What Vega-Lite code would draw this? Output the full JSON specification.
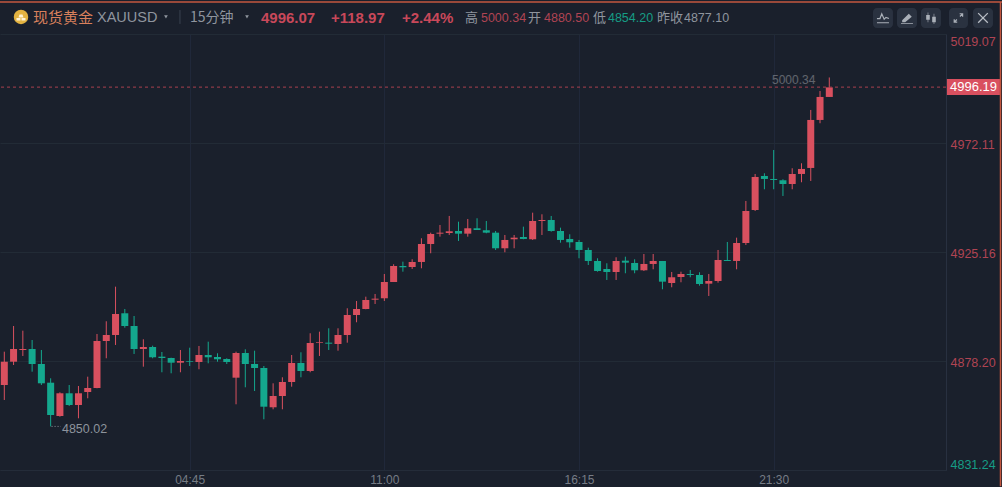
{
"$schema":"https://vega.github.io/schema/vega-lite/v6.json",
"width":946,"height":436,
"autosize":{"type":"none"},
"padding":{"left":0,"top":34,"right":56,"bottom":17},
"background":"#1a202c",
"config":{"view":{"stroke":null},"text":{"font":"Liberation Sans","baseline":"middle","align":"left"}},
"data":{"values":[
{"bar":0,"open":4867.86,"high":4882.21,"low":4861.40,"close":4877.90},
{"bar":1,"open":4877.90,"high":4893.28,"low":4876.48,"close":4883.37},
{"bar":2,"open":4882.94,"high":4891.26,"low":4880.36,"close":4883.37},
{"bar":3,"open":4883.37,"high":4887.25,"low":4873.59,"close":4876.91},
{"bar":4,"open":4876.91,"high":4882.94,"low":4867.86,"close":4868.59},
{"bar":5,"open":4868.85,"high":4870.75,"low":4850.02,"close":4854.94},
{"bar":6,"open":4854.51,"high":4864.72,"low":4854.20,"close":4864.29},
{"bar":7,"open":4864.29,"high":4867.86,"low":4858.82,"close":4859.25},
{"bar":8,"open":4859.25,"high":4867.43,"low":4853.52,"close":4864.29},
{"bar":9,"open":4864.85,"high":4871.44,"low":4862.13,"close":4866.57},
{"bar":10,"open":4866.57,"high":4889.84,"low":4866.44,"close":4886.82},
{"bar":11,"open":4886.82,"high":4895.31,"low":4879.37,"close":4889.41},
{"bar":12,"open":4889.41,"high":4910.22,"low":4885.10,"close":4898.45},
{"bar":13,"open":4898.76,"high":4900.61,"low":4892.55,"close":4893.28},
{"bar":14,"open":4893.28,"high":4897.59,"low":4881.22,"close":4883.37},
{"bar":15,"open":4883.37,"high":4887.55,"low":4875.75,"close":4884.24},
{"bar":16,"open":4884.24,"high":4884.80,"low":4879.37,"close":4879.80},
{"bar":17,"open":4880.06,"high":4882.08,"low":4873.34,"close":4879.50},
{"bar":18,"open":4879.50,"high":4879.62,"low":4872.90,"close":4877.47},
{"bar":19,"open":4877.47,"high":4882.94,"low":4873.34,"close":4878.20},
{"bar":20,"open":4878.20,"high":4883.93,"low":4876.05,"close":4877.90},
{"bar":21,"open":4877.77,"high":4884.67,"low":4874.63,"close":4880.79},
{"bar":22,"open":4880.79,"high":4886.52,"low":4877.21,"close":4879.80},
{"bar":23,"open":4879.93,"high":4881.52,"low":4877.90,"close":4878.94},
{"bar":24,"open":4879.06,"high":4879.37,"low":4876.91,"close":4877.77},
{"bar":25,"open":4871.01,"high":4882.21,"low":4859.55,"close":4881.65},
{"bar":26,"open":4881.65,"high":4883.24,"low":4866.87,"close":4876.91},
{"bar":27,"open":4876.91,"high":4882.64,"low":4865.28,"close":4875.19},
{"bar":28,"open":4875.19,"high":4876.05,"low":4853.08,"close":4858.51},
{"bar":29,"open":4858.26,"high":4868.59,"low":4857.39,"close":4863.12},
{"bar":30,"open":4863.12,"high":4871.18,"low":4857.39,"close":4869.16},
{"bar":31,"open":4869.16,"high":4880.79,"low":4867.13,"close":4877.34},
{"bar":32,"open":4877.34,"high":4881.95,"low":4871.18,"close":4873.89},
{"bar":33,"open":4873.89,"high":4890.14,"low":4873.34,"close":4885.96},
{"bar":34,"open":4886.09,"high":4890.83,"low":4880.36,"close":4886.39},
{"bar":35,"open":4886.09,"high":4892.29,"low":4882.94,"close":4885.66},
{"bar":36,"open":4885.53,"high":4892.29,"low":4882.64,"close":4889.41},
{"bar":37,"open":4889.41,"high":4900.91,"low":4886.09,"close":4898.02},
{"bar":38,"open":4898.02,"high":4904.05,"low":4894.88,"close":4900.61},
{"bar":39,"open":4900.61,"high":4905.91,"low":4900.48,"close":4904.48},
{"bar":40,"open":4904.61,"high":4907.07,"low":4902.76,"close":4905.05},
{"bar":41,"open":4905.22,"high":4915.69,"low":4904.05,"close":4912.24},
{"bar":42,"open":4912.24,"high":4919.87,"low":4912.24,"close":4919.13},
{"bar":43,"open":4919.13,"high":4920.99,"low":4916.68,"close":4918.57},
{"bar":44,"open":4918.70,"high":4922.02,"low":4917.84,"close":4920.86},
{"bar":45,"open":4920.86,"high":4931.07,"low":4918.14,"close":4928.61},
{"bar":46,"open":4928.61,"high":4933.48,"low":4924.61,"close":4932.92},
{"bar":47,"open":4933.05,"high":4936.80,"low":4931.76,"close":4933.48},
{"bar":48,"open":4933.35,"high":4940.68,"low":4932.49,"close":4934.08},
{"bar":49,"open":4934.21,"high":4938.22,"low":4929.91,"close":4933.05},
{"bar":50,"open":4933.05,"high":4939.38,"low":4931.76,"close":4935.38},
{"bar":51,"open":4935.38,"high":4939.69,"low":4934.64,"close":4934.64},
{"bar":52,"open":4934.52,"high":4938.52,"low":4933.22,"close":4933.48},
{"bar":53,"open":4933.48,"high":4934.21,"low":4926.03,"close":4926.76},
{"bar":54,"open":4926.76,"high":4932.49,"low":4925.04,"close":4930.34},
{"bar":55,"open":4930.64,"high":4932.49,"low":4926.76,"close":4931.33},
{"bar":56,"open":4931.63,"high":4936.07,"low":4930.64,"close":4930.77},
{"bar":57,"open":4930.64,"high":4942.10,"low":4930.34,"close":4938.52},
{"bar":58,"open":4938.52,"high":4941.41,"low":4932.49,"close":4938.95},
{"bar":59,"open":4938.95,"high":4940.68,"low":4933.91,"close":4934.21},
{"bar":60,"open":4934.21,"high":4935.64,"low":4929.17,"close":4930.34},
{"bar":61,"open":4930.77,"high":4932.79,"low":4927.02,"close":4929.34},
{"bar":62,"open":4929.47,"high":4930.34,"low":4922.45,"close":4926.03},
{"bar":63,"open":4926.03,"high":4927.02,"low":4919.56,"close":4921.29},
{"bar":64,"open":4921.29,"high":4922.45,"low":4916.68,"close":4916.98},
{"bar":65,"open":4917.84,"high":4920.30,"low":4913.10,"close":4916.55},
{"bar":66,"open":4916.55,"high":4922.88,"low":4913.10,"close":4921.29},
{"bar":67,"open":4921.42,"high":4923.14,"low":4915.99,"close":4920.56},
{"bar":68,"open":4920.43,"high":4922.02,"low":4915.99,"close":4917.28},
{"bar":69,"open":4917.28,"high":4924.30,"low":4916.98,"close":4920.00},
{"bar":70,"open":4920.00,"high":4924.30,"low":4917.71,"close":4921.29},
{"bar":71,"open":4921.29,"high":4921.29,"low":4909.09,"close":4912.37},
{"bar":72,"open":4911.81,"high":4916.55,"low":4909.96,"close":4914.27},
{"bar":73,"open":4914.39,"high":4916.68,"low":4912.11,"close":4915.69},
{"bar":74,"open":4915.69,"high":4917.41,"low":4914.27,"close":4915.26},
{"bar":75,"open":4915.26,"high":4916.42,"low":4910.65,"close":4911.38},
{"bar":76,"open":4911.51,"high":4915.69,"low":4906.21,"close":4912.67},
{"bar":77,"open":4912.67,"high":4926.03,"low":4911.94,"close":4921.72},
{"bar":78,"open":4921.72,"high":4929.47,"low":4921.29,"close":4921.29},
{"bar":79,"open":4921.29,"high":4931.33,"low":4917.71,"close":4929.04},
{"bar":80,"open":4929.04,"high":4947.14,"low":4928.18,"close":4942.83},
{"bar":81,"open":4943.26,"high":4958.77,"low":4942.83,"close":4957.48},
{"bar":82,"open":4957.91,"high":4959.07,"low":4952.18,"close":4956.62},
{"bar":83,"open":4956.62,"high":4969.11,"low":4952.18,"close":4956.19},
{"bar":84,"open":4956.06,"high":4956.49,"low":4949.29,"close":4954.46},
{"bar":85,"open":4954.46,"high":4961.23,"low":4952.18,"close":4958.77},
{"bar":86,"open":4958.77,"high":4963.38,"low":4955.20,"close":4960.93},
{"bar":87,"open":4961.36,"high":4986.35,"low":4955.76,"close":4982.04},
{"bar":88,"open":4982.04,"high":4994.53,"low":4980.62,"close":4991.95},
{"bar":89,"open":4991.95,"high":5000.34,"low":4991.95,"close":4996.07}
]},
"layer":[
{"mark":{"type":"rule","strokeWidth":1},
 "encoding":{
  "x":{"field":"bar","type":"quantitative","scale":{"domain":[-0.464,101.59],"nice":false,"zero":false,"padding":0},
   "axis":{"title":null,"values":[20,41,62,83],"labelExpr":"{'20':'04:45','41':'11:00','62':'16:15','83':'21:30'}[datum.value]","grid":true,"gridColor":"#20283a","domainColor":"#242c39","ticks":false,"labelColor":"#767c85","labelFontSize":12,"labelFont":"Liberation Sans","labelPadding":4,"labelAngle":0}},
  "y":{"field":"low","type":"quantitative","scale":{"domain":[4831.24,5019.07],"nice":false,"zero":false},
   "axis":{"title":null,"orient":"right","values":[4831.24,4878.20,4925.16,4972.11,5019.07],"format":".2f","grid":true,"gridColor":"#222b36","domainColor":"#283040","ticks":false,"labelFontSize":12.5,"labelFont":"Liberation Sans","labelPadding":4,"labelFlush":true,"labelOffset":1.5,"labelColor":{"condition":{"test":"datum.value<4877","value":"#169c85"},"value":"#b04453"}}},
  "y2":{"field":"high"},
  "color":{"condition":{"test":"datum.close>=datum.open","value":"#d9505f"},"value":"#14a88e"}
 }},
{"mark":{"type":"bar","size":7},
 "encoding":{
  "x":{"field":"bar","type":"quantitative"},
  "y":{"field":"open","type":"quantitative"},
  "y2":{"field":"close"},
  "color":{"condition":{"test":"datum.close>=datum.open","value":"#d9505f"},"value":"#14a88e"}
 }},
{"data":{"values":[{"price":4996.19}]},"mark":{"type":"rule","color":"#a8404f","strokeWidth":1,"strokeDash":[3,3]},
 "encoding":{"y":{"field":"price","type":"quantitative"}}},
{"data":{"values":[{"label":"5000.34"}]},"mark":{"type":"text","fontSize":12,"color":"#ffffff","opacity":0.3},
 "encoding":{"text":{"field":"label"},"x":{"datum":82.82,"type":"quantitative"},"y":{"datum":4999.27,"type":"quantitative"}}},
{"data":{"values":[{"price":4850.02}]},"mark":{"type":"rule","color":"#8d939c","strokeWidth":1,"strokeDash":[1,2]},
 "encoding":{"x":{"datum":5.1,"type":"quantitative"},"x2":{"datum":6.1},"y":{"field":"price","type":"quantitative"}}},
{"data":{"values":[{"label":"4850.02"}]},"mark":{"type":"text","fontSize":12.5,"color":"#8d939c"},
 "encoding":{"text":{"field":"label"},"x":{"datum":6.22,"type":"quantitative"},"y":{"datum":4848.9,"type":"quantitative"}}},
{"data":{"values":[{}]},"mark":{"type":"rect","color":"#d9505f"},
 "encoding":{"x":{"datum":101.69,"type":"quantitative"},"x2":{"datum":107.41},"y":{"datum":4999.7,"type":"quantitative"},"y2":{"datum":4992.8}}},
{"data":{"values":[{"label":"4996.19"}]},"mark":{"type":"text","fontSize":13,"color":"#ffffff"},
 "encoding":{"text":{"field":"label"},"x":{"datum":102.02,"type":"quantitative"},"y":{"datum":4996.19,"type":"quantitative"}}},
{"data":{"values":[{}]},"mark":{"type":"rule","color":"#c4573f","strokeWidth":1.5},
 "encoding":{"x":{"datum":-0.464,"type":"quantitative"},"x2":{"datum":107.63},"y":{"datum":5032.9,"type":"quantitative"}}},
{"data":{"values":[{}]},"mark":{"type":"rule","color":"#c4573f","strokeWidth":1.5},
 "encoding":{"x":{"datum":107.47,"type":"quantitative"},"y":{"datum":5032.9,"type":"quantitative"},"y2":{"datum":4824.2}}},
{"data":{"values":[{}]},"mark":{"type":"point","shape":"circle","filled":true,"size":210,"color":"#e3b341","opacity":1},
 "encoding":{"x":{"datum":1.8,"type":"quantitative"},"y":{"datum":5026.42,"type":"quantitative"}}},
{"data":{"values":[{}]},"mark":{"type":"point","shape":"M-0.3,-0.5L0.3,-0.5L0.5,0.1L-0.5,0.1ZM-0.9,0.2L-0.1,0.2L-0.1,0.7L-0.9,0.7ZM0.1,0.2L0.9,0.2L0.9,0.7L0.1,0.7Z","filled":true,"size":100,"color":"#fff4d6","opacity":1},
 "encoding":{"x":{"datum":1.8,"type":"quantitative"},"y":{"datum":5026.42,"type":"quantitative"}}},
{"data":{"values":[{"label":"现货黄金"}]},"mark":{"type":"text","font":"Noto Sans CJK SC","fontSize":15,"color":"#d9805c"},
 "encoding":{"text":{"field":"label"},"x":{"datum":3.096,"type":"quantitative"},"y":{"datum":5026.0,"type":"quantitative"}}},
{"data":{"values":[{"label":"XAUUSD"}]},"mark":{"type":"text","fontSize":14.5,"color":"#8f959e"},
 "encoding":{"text":{"field":"label"},"x":{"datum":10.0,"type":"quantitative"},"y":{"datum":5026.0,"type":"quantitative"}}},
{"data":{"values":[{}]},"mark":{"type":"point","shape":"triangle-down","filled":true,"size":14,"color":"#8f959e","opacity":1},
 "encoding":{"x":{"datum":17.44,"type":"quantitative"},"y":{"datum":5026.4,"type":"quantitative"}}},
{"data":{"values":[{}]},"mark":{"type":"rule","color":"#3a424f","strokeWidth":1},
 "encoding":{"x":{"datum":18.95,"type":"quantitative"},"y":{"datum":5029.4,"type":"quantitative"},"y2":{"datum":5023.4}}},
{"data":{"values":[{"label":"15分钟"}]},"mark":{"type":"text","font":"Noto Sans CJK SC","fontSize":14,"color":"#8f959e"},
 "encoding":{"text":{"field":"label"},"x":{"datum":20.03,"type":"quantitative"},"y":{"datum":5026.0,"type":"quantitative"}}},
{"data":{"values":[{}]},"mark":{"type":"point","shape":"triangle-down","filled":true,"size":14,"color":"#8f959e","opacity":1},
 "encoding":{"x":{"datum":26.18,"type":"quantitative"},"y":{"datum":5026.4,"type":"quantitative"}}},
{"data":{"values":[{"label":"4996.07"}]},"mark":{"type":"text","fontSize":15,"fontWeight":"bold","color":"#c8485a"},
 "encoding":{"text":{"field":"label"},"x":{"datum":27.69,"type":"quantitative"},"y":{"datum":5026.0,"type":"quantitative"}}},
{"data":{"values":[{"label":"+118.97"}]},"mark":{"type":"text","fontSize":15,"fontWeight":"bold","color":"#c8485a"},
 "encoding":{"text":{"field":"label"},"x":{"datum":35.24,"type":"quantitative"},"y":{"datum":5026.0,"type":"quantitative"}}},
{"data":{"values":[{"label":"+2.44%"}]},"mark":{"type":"text","fontSize":15,"fontWeight":"bold","color":"#c8485a"},
 "encoding":{"text":{"field":"label"},"x":{"datum":42.9,"type":"quantitative"},"y":{"datum":5026.0,"type":"quantitative"}}},
{"data":{"values":[{"label":"高"}]},"mark":{"type":"text","font":"Noto Sans CJK SC","fontSize":13,"color":"#8f959e"},
 "encoding":{"text":{"field":"label"},"x":{"datum":49.7,"type":"quantitative"},"y":{"datum":5026.0,"type":"quantitative"}}},
{"data":{"values":[{"label":"5000.34"}]},"mark":{"type":"text","fontSize":12.5,"color":"#b04453"},
 "encoding":{"text":{"field":"label"},"x":{"datum":51.42,"type":"quantitative"},"y":{"datum":5026.0,"type":"quantitative"}}},
{"data":{"values":[{"label":"开"}]},"mark":{"type":"text","font":"Noto Sans CJK SC","fontSize":13,"color":"#8f959e"},
 "encoding":{"text":{"field":"label"},"x":{"datum":56.5,"type":"quantitative"},"y":{"datum":5026.0,"type":"quantitative"}}},
{"data":{"values":[{"label":"4880.50"}]},"mark":{"type":"text","fontSize":12.5,"color":"#b04453"},
 "encoding":{"text":{"field":"label"},"x":{"datum":58.22,"type":"quantitative"},"y":{"datum":5026.0,"type":"quantitative"}}},
{"data":{"values":[{"label":"低"}]},"mark":{"type":"text","font":"Noto Sans CJK SC","fontSize":13,"color":"#8f959e"},
 "encoding":{"text":{"field":"label"},"x":{"datum":63.51,"type":"quantitative"},"y":{"datum":5026.0,"type":"quantitative"}}},
{"data":{"values":[{"label":"4854.20"}]},"mark":{"type":"text","fontSize":12.5,"color":"#169c85"},
 "encoding":{"text":{"field":"label"},"x":{"datum":65.12,"type":"quantitative"},"y":{"datum":5026.0,"type":"quantitative"}}},
{"data":{"values":[{"label":"昨收"}]},"mark":{"type":"text","font":"Noto Sans CJK SC","fontSize":13,"color":"#8f959e"},
 "encoding":{"text":{"field":"label"},"x":{"datum":70.41,"type":"quantitative"},"y":{"datum":5026.0,"type":"quantitative"}}},
{"data":{"values":[{"label":"4877.10"}]},"mark":{"type":"text","fontSize":12.5,"color":"#8f959e"},
 "encoding":{"text":{"field":"label"},"x":{"datum":73.32,"type":"quantitative"},"y":{"datum":5026.0,"type":"quantitative"}}},
{"data":{"values":[{}]},"mark":{"type":"rect","color":"#2a3240","cornerRadius":4},
 "encoding":{"x":{"datum":93.71,"type":"quantitative"},"x2":{"datum":95.87},"y":{"datum":5030.29,"type":"quantitative"},"y2":{"datum":5021.68}}},
{"data":{"values":[{}]},"mark":{"type":"rect","color":"#2a3240","cornerRadius":4},
 "encoding":{"x":{"datum":96.3,"type":"quantitative"},"x2":{"datum":98.46},"y":{"datum":5030.29,"type":"quantitative"},"y2":{"datum":5021.68}}},
{"data":{"values":[{}]},"mark":{"type":"rect","color":"#2a3240","cornerRadius":4},
 "encoding":{"x":{"datum":98.89,"type":"quantitative"},"x2":{"datum":101.05},"y":{"datum":5030.29,"type":"quantitative"},"y2":{"datum":5021.68}}},
{"data":{"values":[{}]},"mark":{"type":"rect","color":"#2a3240","cornerRadius":4},
 "encoding":{"x":{"datum":101.91,"type":"quantitative"},"x2":{"datum":103.96},"y":{"datum":5030.29,"type":"quantitative"},"y2":{"datum":5021.68}}},
{"data":{"values":[{}]},"mark":{"type":"rect","color":"#2a3240","cornerRadius":4},
 "encoding":{"x":{"datum":104.5,"type":"quantitative"},"x2":{"datum":106.66},"y":{"datum":5030.29,"type":"quantitative"},"y2":{"datum":5021.68}}},
{"data":{"values":[{}]},"mark":{"type":"point","shape":"M-1,0.1L-0.5,0.1L-0.2,-0.7L0.2,0.2L0.5,-0.1L1,0.1M-1,0.8L1,0.8","filled":false,"size":144,"strokeWidth":1.2,"color":"#aab0b8","opacity":1},
 "encoding":{"x":{"datum":94.79,"type":"quantitative"},"y":{"datum":5025.98,"type":"quantitative"}}},
{"data":{"values":[{}]},"mark":{"type":"point","shape":"M-0.8,0.4L0.3,-0.7L0.8,-0.2L-0.3,0.7L-0.8,0.7ZM-1,0.9L1,0.9L1,1L-1,1Z","filled":true,"size":144,"color":"#aab0b8","opacity":1},
 "encoding":{"x":{"datum":97.38,"type":"quantitative"},"y":{"datum":5025.98,"type":"quantitative"}}},
{"data":{"values":[{}]},"mark":{"type":"point","shape":"M-0.8,-0.5L-0.2,-0.5L-0.2,0.3L-0.8,0.3ZM0.2,-0.2L0.8,-0.2L0.8,0.7L0.2,0.7ZM-0.55,-0.9L-0.45,-0.9L-0.45,0.7L-0.55,0.7ZM0.45,-0.7L0.55,-0.7L0.55,1L0.45,1Z","filled":true,"size":144,"color":"#aab0b8","opacity":1},
 "encoding":{"x":{"datum":99.97,"type":"quantitative"},"y":{"datum":5025.98,"type":"quantitative"}}},
{"data":{"values":[{}]},"mark":{"type":"point","shape":"M0.2,-0.7L0.7,-0.7L0.7,-0.2M0.7,-0.7L0.25,-0.25M-0.7,0.2L-0.7,0.7L-0.2,0.7M-0.7,0.7L-0.25,0.25","filled":false,"size":144,"strokeWidth":1.2,"color":"#aab0b8","opacity":1},
 "encoding":{"x":{"datum":102.93,"type":"quantitative"},"y":{"datum":5025.98,"type":"quantitative"}}},
{"data":{"values":[{}]},"mark":{"type":"point","shape":"M-0.8,-0.8L0.8,0.8M0.8,-0.8L-0.8,0.8","filled":false,"size":144,"strokeWidth":1.3,"color":"#b8bdc4","opacity":1},
 "encoding":{"x":{"datum":105.58,"type":"quantitative"},"y":{"datum":5025.98,"type":"quantitative"}}}
]
}
